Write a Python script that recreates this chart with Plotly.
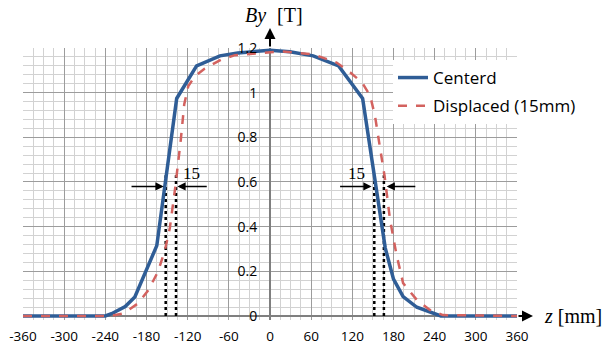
import plotly.graph_objects as go

# ---- data ----
z_centered = [-360, -240, -231, -211, -197, -181, -165, -136, -107, -73, -47, 0,
              29, 63, 100, 135, 168, 180, 194, 214, 243, 249, 360]
by_centered = [0, 0, 0.01, 0.042, 0.085, 0.2, 0.315, 0.974, 1.12, 1.165, 1.178, 1.19,
               1.183, 1.165, 1.12, 0.974, 0.304, 0.165, 0.087, 0.039, 0.006, 0, 0]

z_displaced = [-360, -233, -216, -206, -192, -177, -163, -153, -146, -138, -130, -125,
               -119, -109, -95, -70, -51, -12, 15, 63, 97, 117, 134, 146, 153, 160,
               167, 175, 184, 194, 214, 233, 252, 360]
by_displaced = [0, 0, 0.01, 0.027, 0.057, 0.117, 0.2, 0.297, 0.394, 0.578, 0.79, 0.948,
                1.03, 1.075, 1.108, 1.15, 1.168, 1.177, 1.185, 1.172, 1.135, 1.09, 1.046,
                0.986, 0.896, 0.76, 0.626, 0.43, 0.28, 0.147, 0.072, 0.027, 0.004, 0]

# dotted marker lines (z positions) and their height
dotted_z = [-152, -137, 152, 166]
dotted_top = 0.63

# width arrows: (tail z, tip z) at a common By level
arrow_level = 0.58
arrows = [(-204, -155), (-90, -135), (100, 148), (214, 170)]
width_labels = [(-114, 0.64), (126, 0.64)]
width_text = "15"

x_ticks = [-360, -300, -240, -180, -120, -60, 0, 60, 120, 180, 240, 300, 360]
x_ticktext = [str(v) for v in x_ticks]
y_ticks = [0, 0.2, 0.4, 0.6, 0.8, 1.0, 1.2]
y_ticktext = ["0", "0.2", "0.4", "0.6", "0.8", "1", "1.2"]

BLUE = "#2F5D96"
RED = "#D3625F"
MAJOR = "#9C9C9C"
MINOR = "#D2D2D2"
SANS = "Open Sans, Noto Sans, sans-serif"
SERIF = "Liberation Serif, Times New Roman, serif"

fig = go.Figure()

for zx in dotted_z:
    fig.add_trace(go.Scatter(x=[zx, zx], y=[0, dotted_top], mode="lines",
                             line=dict(color="black", width=2.5, dash="dot"),
                             showlegend=False, hoverinfo="skip"))

fig.add_trace(go.Scatter(x=z_centered, y=by_centered, mode="lines", name="Centerd",
                         line=dict(color=BLUE, width=3.5), legendgroup="a"))
fig.add_trace(go.Scatter(x=z_displaced, y=by_displaced, mode="lines",
                         name="Displaced (15mm)",
                         line=dict(color=RED, width=2.5, dash="dash"), legendgroup="b"))

# dummy trace for label axis
fig.add_trace(go.Scatter(x=[None], y=[None], yaxis="y2", showlegend=False, hoverinfo="skip"))

annotations = []
for tail, tip in arrows:
    annotations.append(dict(x=tip, y=arrow_level, ax=tail, ay=arrow_level,
                            xref="x", yref="y", axref="x", ayref="y", text="",
                            showarrow=True, arrowhead=2, arrowsize=1.1, arrowwidth=1.5,
                            arrowcolor="black"))
for lx, ly in width_labels:
    annotations.append(dict(x=lx, y=ly, xref="x", yref="y", text=width_text, showarrow=False,
                            font=dict(family=SERIF, size=17, color="black")))

# axis arrows
annotations.append(dict(x=0, y=1 + 20 / 272, xref="x", yref="paper", ax=0, ay=20,
                        text="", showarrow=True, arrowhead=2, arrowsize=1.1,
                        arrowwidth=2, arrowcolor="black"))
annotations.append(dict(x=1 + 16 / 494, y=0, xref="paper", yref="y", ax=-16, ay=0,
                        text="", showarrow=True, arrowhead=2, arrowsize=1.1,
                        arrowwidth=2, arrowcolor="black"))
# axis titles
annotations.append(dict(x=0, y=(320 - 15) / 272, xref="x", yref="paper", xshift=-2,
                        xanchor="right", yanchor="middle", text="<i>By</i>", showarrow=False,
                        font=dict(family=SERIF, size=20, color="black")))
annotations.append(dict(x=0, y=(320 - 15) / 272, xref="x", yref="paper", xshift=5,
                        xanchor="left", yanchor="middle", text="[T]", showarrow=False,
                        font=dict(family=SERIF, size=20, color="black")))
annotations.append(dict(x=(542 - 23) / 494, y=0, xref="paper", yref="y",
                        xanchor="left", yanchor="middle",
                        text="<i>z</i> [mm]", showarrow=False,
                        font=dict(family=SERIF, size=20, color="black")))

fig.update_layout(
    width=612, height=345,
    margin=dict(l=23, r=95, t=48, b=25, autoexpand=False),
    plot_bgcolor="white", paper_bgcolor="white",
    font=dict(family=SANS, size=14, color="black"),
    xaxis=dict(range=[-360, 360], tickmode="array", tickvals=x_ticks, ticktext=x_ticktext,
               showgrid=True, gridcolor=MAJOR, gridwidth=1,
               minor=dict(tickmode="linear", tick0=0, dtick=15, showgrid=True,
                          gridcolor=MINOR, gridwidth=1),
               zeroline=True, zerolinecolor="#7F7F7F", zerolinewidth=1.5,
               ticks="outside", ticklen=4, tickcolor="rgba(0,0,0,0)",
               tickfont=dict(size=13.5), showline=False, fixedrange=True, automargin=False),
    yaxis=dict(range=[-0.018, 1.2], tickmode="linear", tick0=0, dtick=0.2,
               showticklabels=False, showgrid=True, gridcolor=MAJOR, gridwidth=1,
               minor=dict(tickmode="linear", tick0=0, dtick=0.04, showgrid=True,
                          gridcolor=MINOR, gridwidth=1),
               zeroline=True, zerolinecolor="#7F7F7F", zerolinewidth=1.5,
               showline=False, fixedrange=True, automargin=False),
    yaxis2=dict(range=[-0.018, 1.2], overlaying="y", anchor="free", position=0.5,
                tickmode="array", tickvals=y_ticks, ticktext=y_ticktext,
                showgrid=False, zeroline=False, showline=False,
                ticks="outside", ticklen=10, tickcolor="rgba(0,0,0,0)",
                tickfont=dict(size=14), fixedrange=True, automargin=False),
    legend=dict(x=(393 - 23) / 494, y=(320 - 60) / 272, xanchor="left", yanchor="top",
                bgcolor="white", borderwidth=0, font=dict(size=17, family=SANS),
                tracegroupgap=3, itemwidth=30, traceorder="grouped"),
    annotations=annotations,
)

fig.write_html("out.html", config={"displayModeBar": False},
               post_script="document.body.style.margin='0';document.body.style.overflow='hidden';")
